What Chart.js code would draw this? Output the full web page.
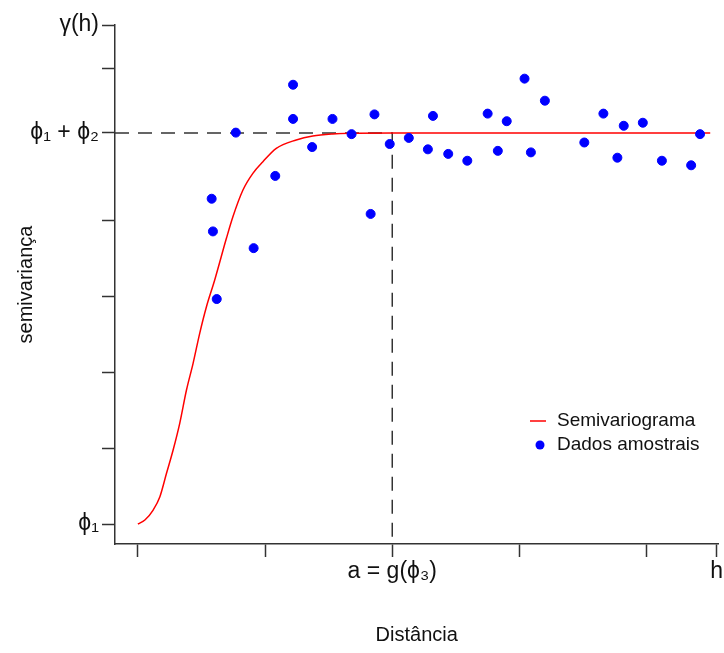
<!DOCTYPE html>
<html>
<head>
<meta charset="utf-8">
<script src="https://cdn.jsdelivr.net/npm/chart.js@4"></script>
<style>
  html, body { margin: 0; padding: 0; background: #fff; }
  canvas { display: block; }
</style>
</head>
<body>
<canvas id="chart" width="724" height="653"></canvas>
<script>
// Dados amostrais (distância, semivariância)
const distancia = [0.58, 0.59, 0.62, 0.77, 0.91, 1.08, 1.22, 1.22, 1.37, 1.53, 1.68, 1.83, 1.86, 1.98,
  2.13, 2.28, 2.32, 2.44, 2.59, 2.75, 2.83, 2.90, 3.04, 3.09, 3.20, 3.51, 3.66, 3.77, 3.82, 3.97,
  4.12, 4.35, 4.42];
const semivariancia = [4.28, 3.85, 2.96, 5.15, 3.63, 4.58, 5.78, 5.33, 4.96, 5.33, 5.13, 4.08, 5.39, 5.00,
  5.08, 4.93, 5.37, 4.87, 4.78, 5.40, 4.91, 5.30, 5.86, 4.89, 5.57, 5.02, 5.40, 4.82, 5.24, 5.28,
  4.78, 4.72, 5.13];

// Semivariograma ajustado
const curvaX = [0, 0.055, 0.12, 0.173, 0.225, 0.277, 0.329, 0.382, 0.434, 0.486, 0.539, 0.604, 0.696,
  0.747, 0.826, 0.904, 0.983, 1.088, 1.245, 1.375, 1.532, 1.663, 2.0, 4.5];
const curvaY = [0, 0.053, 0.184, 0.359, 0.667, 0.974, 1.325, 1.763, 2.114, 2.509, 2.859, 3.211, 3.759,
  4.043, 4.395, 4.614, 4.767, 4.943, 5.053, 5.105, 5.132, 5.141, 5.145, 5.145];

const patamar = 5.145; // phi1 + phi2
const alcance = 2;     // a = g(phi3)

const xTicks = [0, 1, 2, 3, 4, 4.55];
const xTickLabels = ["", "", "a = g(ϕ₃)", "", "", "h"];
const yTicks = [0, 1, 2, 3, 4, patamar, 6, 6.566];
const yTickLabels = ["ϕ₁", "", "", "", "", "ϕ₁ + ϕ₂", "", "γ(h)"];

const xMin = -0.18, xMax = 4.565;
const yMin = -0.263, yMax = 6.566;

const pontos = distancia.map((d, i) => ({ x: d, y: semivariancia[i] }));
const curva = curvaX.map((d, i) => ({ x: d, y: curvaY[i] }));
const guia = [{ x: xMin, y: patamar }, { x: alcance, y: patamar }, { x: alcance, y: yMin }];

const legenda = {
  id: "legenda",
  afterDatasetsDraw(chart) {
    const ctx = chart.ctx;
    const a = chart.chartArea;
    const lx = a.left + 415, ly = a.top + 396;
    ctx.save();
    ctx.strokeStyle = "#ff0000";
    ctx.lineWidth = 1.5;
    ctx.beginPath();
    ctx.moveTo(lx, ly);
    ctx.lineTo(lx + 16, ly);
    ctx.stroke();
    ctx.fillStyle = "#0000ff";
    ctx.beginPath();
    ctx.arc(lx + 10, ly + 24, 4.5, 0, Math.PI * 2);
    ctx.fill();
    ctx.fillStyle = "#111";
    ctx.font = "19px 'Liberation Sans', Arial, sans-serif";
    ctx.textBaseline = "middle";
    ctx.fillText("Semivariograma", lx + 27, ly);
    ctx.fillText("Dados amostrais", lx + 27, ly + 24);
    ctx.restore();
  }
};

const tickFont = { family: "'Liberation Sans', Arial, sans-serif", size: 23 };

new Chart(document.getElementById("chart"), {
  type: "scatter",
  data: {
    datasets: [
      {
        label: "Dados amostrais",
        data: pontos,
        backgroundColor: "#0000ff",
        borderColor: "#0000ff",
        pointRadius: 4.5,
        pointHoverRadius: 4.5
      },
      {
        label: "Semivariograma",
        type: "line",
        data: curva,
        borderColor: "#ff0000",
        borderWidth: 1.5,
        pointRadius: 0,
        cubicInterpolationMode: "monotone",
        fill: false
      },
      {
        label: "guia",
        type: "line",
        data: guia,
        borderColor: "#333",
        borderWidth: 1.5,
        borderDash: [14, 9],
        pointRadius: 0,
        tension: 0,
        fill: false
      }
    ]
  },
  options: {
    responsive: false,
    animation: false,
    devicePixelRatio: 1,
    layout: { padding: { top: 25, right: 4, bottom: 0, left: 0 } },
    plugins: {
      legend: { display: false },
      tooltip: { enabled: false }
    },
    scales: {
      x: {
        type: "linear",
        min: xMin,
        max: xMax,
        afterBuildTicks: (scale) => { scale.ticks = xTicks.map(v => ({ value: v })); },
        afterFit: (scale) => { scale.height = 109; },
        ticks: {
          autoSkip: false,
          maxRotation: 0,
          padding: 1,
          color: "#111",
          font: tickFont,
          callback: (value, index) => xTickLabels[index]
        },
        grid: { drawOnChartArea: false, tickLength: 13, tickColor: "#333", tickWidth: 1.5 },
        border: { color: "#333", width: 1.5 },
        title: {
          display: true,
          text: "Distância",
          color: "#111",
          font: { family: "'Liberation Sans', Arial, sans-serif", size: 20 },
          padding: { top: 0, bottom: 6 }
        }
      },
      y: {
        type: "linear",
        min: yMin,
        max: yMax,
        afterBuildTicks: (scale) => { scale.ticks = yTicks.map(v => ({ value: v })); },
        afterFit: (scale) => { scale.width = 115; },
        ticks: {
          autoSkip: false,
          padding: 3,
          color: "#111",
          font: tickFont,
          callback: (value, index) => yTickLabels[index]
        },
        grid: { drawOnChartArea: false, tickLength: 13, tickColor: "#333", tickWidth: 1.5 },
        border: { color: "#333", width: 1.5 },
        title: {
          display: true,
          text: "semivariança",
          color: "#111",
          font: { family: "'Liberation Sans', Arial, sans-serif", size: 20 },
          padding: { top: 14, bottom: 0 }
        }
      }
    }
  },
  plugins: [legenda]
});
</script>
</body>
</html>
